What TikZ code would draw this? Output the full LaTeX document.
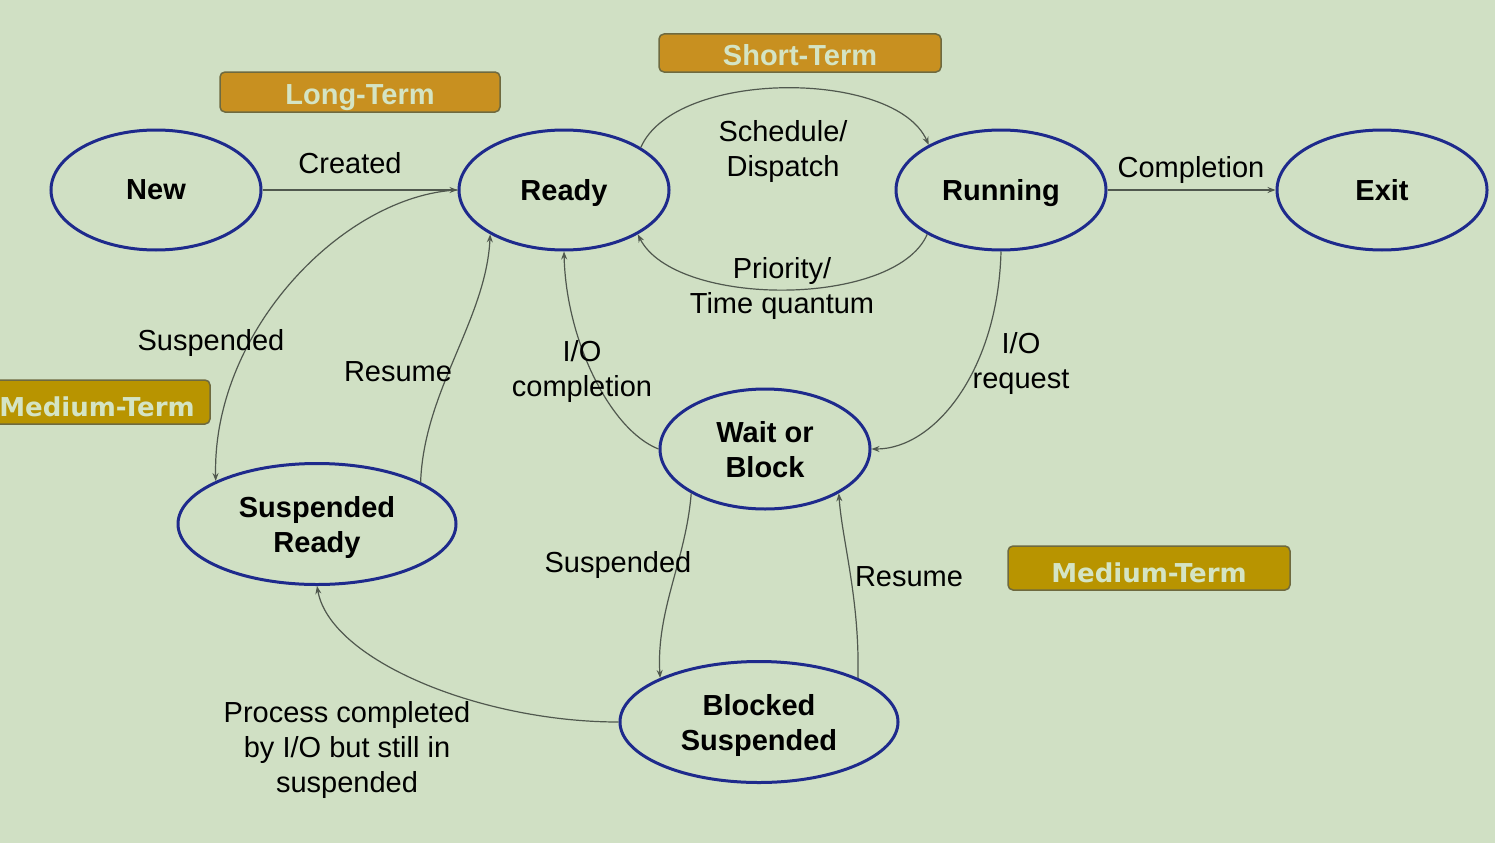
\documentclass[tikz,border=0pt]{standalone}
\usepackage{fontspec}
\setmainfont{Liberation Sans}
\newfontfamily\verdanalike{DejaVu Sans}
\usetikzlibrary{shapes.geometric,arrows.meta}
\definecolor{bgc}{RGB}{208,224,196}
\definecolor{ellc}{RGB}{30,42,140}
\definecolor{edgec}{RGB}{80,88,78}
\definecolor{tagor}{RGB}{200,144,32}
\definecolor{tagmed}{RGB}{184,148,0}
\definecolor{tagbd}{RGB}{110,106,64}
\definecolor{tagtx}{RGB}{212,228,196}
\tikzset{
  state/.style={ellipse, draw=ellc, line width=3pt, inner sep=0pt, minimum width=210pt, minimum height=120pt, align=center, text depth=0pt, font=\fontsize{29}{35}\selectfont\bfseries},
  widestate/.style={state, minimum width=278pt, minimum height=121pt},
  arr/.style={draw=edgec, line width=1.2pt, -{Stealth[length=8pt,width=6pt]}},
  lbl/.style={align=center, font=\fontsize{29}{35}\selectfont, inner sep=0pt},
  tag/.style={draw=tagbd, line width=1.5pt, rounded corners=5pt, fill=tagor, text=tagtx, inner sep=0pt, text height=25pt, text depth=0pt, font=\fontsize{29}{35}\selectfont\bfseries},
  medtag/.style={tag, fill=tagmed, text height=28.5pt, font=\fontsize{26}{30}\selectfont\verdanalike\bfseries},
}
\begin{document}
\begin{tikzpicture}[x=1pt,y=-1pt]
\fill[bgc] (0,0) rectangle (1495,843);
\useasboundingbox (0,0) rectangle (1495,843);
\clip (0,0) rectangle (1495,843);
% tags
\node[tag, minimum width=280pt, minimum height=40pt] (longt) at (360,92) {Long-Term};
\node[tag, minimum width=282pt, minimum height=38pt] (shortt) at (800,53) {Short-Term};
\node[medtag, minimum width=226pt, minimum height=44pt] (medl) at (97,402) {Medium-Term};
\node[medtag, minimum width=282pt, minimum height=44pt] (medr) at (1149,568) {Medium-Term};
% states
\node[state] (new) at (156,190) {New};
\node[state] (ready) at (564,190) {Ready};
\node[state] (running) at (1001,190) {Running};
\node[state] (exit) at (1382,190) {Exit};
\node[state] (wait) at (765,449) {Wait or\\Block};
\node[widestate] (sready) at (317,524) {Suspended\\Ready};
\node[widestate] (bsusp) at (759,722) {Blocked\\Suspended};
% edges
\draw[arr] (new.east) -- (ready.west);
\draw[arr] (ready.29) .. controls (675,69) and (895,69) .. (running.148);
\draw[arr] (running.211) .. controls (895,308) and (675,308) .. (ready.329);
\draw[arr] (running.east) -- (exit.west);
\draw[arr] (running.south) .. controls (998,370) and (935,449) .. (wait.east);
\draw[arr] (wait.west) .. controls (610,430) and (566,340) .. (ready.south);
\draw[arr] (ready.west) .. controls (345,195) and (212,330) .. (sready.157);
\draw[arr] (sready.22) .. controls (424,390) and (486,320) .. (ready.211);
\draw[arr] (wait.211) .. controls (686,560) and (656,610) .. (bsusp.156);
\draw[arr] (bsusp.24) .. controls (860,600) and (842,540) .. (wait.329);
\draw[arr] (bsusp.west) .. controls (480,722) and (330,660) .. (sready.south);
% labels
\node[lbl] (lcreated) at (350,163) {Created};
\node[lbl] (lsched) at (783,152) {Schedule/\\Dispatch};
\node[lbl] (lprio) at (782,288) {Priority/\\Time quantum};
\node[lbl] (lcompl) at (1191,170) {Completion};
\node[lbl] (lioreq) at (1021,363) {I/O\\request};
\node[lbl] (liocomp) at (582,371) {I/O\\completion};
\node[lbl] (lsusp1) at (211,343) {Suspended};
\node[lbl] (lres1) at (398,372) {Resume};
\node[lbl] (lsusp2) at (618,565) {Suspended};
\node[lbl] (lres2) at (909,577) {Resume};
\node[lbl] (lproc) at (347,750) {Process completed\\by I/O but still in\\suspended};
\end{tikzpicture}
\end{document}
